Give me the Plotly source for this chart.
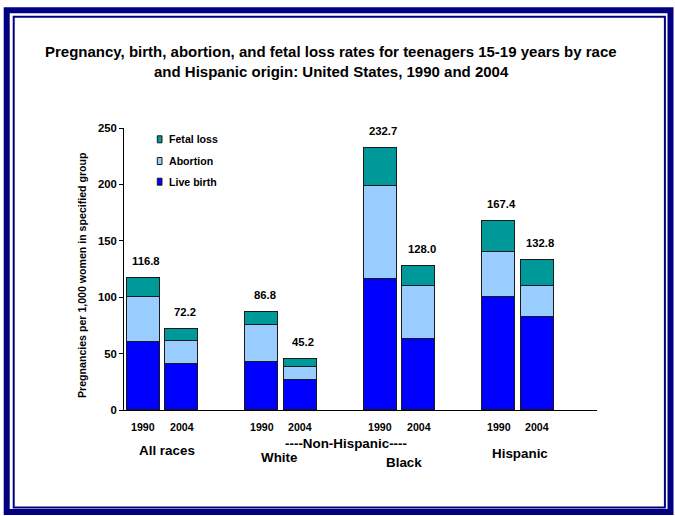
import plotly.graph_objects as go

# Teen pregnancy outcomes (per 1,000 women 15-19), two survey years per group
groups = ["All races", "White", "Black", "Hispanic"]
years = ["1990", "2004"]
live_birth = [59.9, 41.1, 42.6, 26.6, 116.2, 62.7, 100.3, 82.6]
abortion = [40.3, 20.3, 32.8, 11.8, 82.7, 46.9, 40.1, 27.0]
fetal_loss = [16.6, 10.8, 11.4, 6.8, 33.8, 18.4, 27.0, 23.2]
y_ticks = [0, 50, 100, 150, 200, 250]

series = [
    ("Live birth", live_birth, "#0000FF"),
    ("Abortion", abortion, "#99CCFF"),
    ("Fetal loss", fetal_loss, "#009999"),
]

W, H = 675, 516
L, R, T, B = 124, 78, 128, 106
PW, PH = W - L - R, H - T - B
FONT = "Liberation Sans, Arial, sans-serif"
NAVY = "#000080"

OFFSET = 0.163
BAR_W = 0.278
bar_x = [g + (-OFFSET if k == 0 else OFFSET) for g in range(len(groups)) for k in range(len(years))]
totals = [round(b + a + f, 1) for b, a, f in zip(live_birth, abortion, fetal_loss)]


def px(x):
    return (x - L) / PW


def py(y):
    return (T + PH - y) / PH


fig = go.Figure()
for name, vals, color in series:
    fig.add_trace(go.Bar(
        x=bar_x, y=vals, name=name, width=BAR_W,
        marker=dict(color=color, line=dict(color="#1a1a1a", width=1)),
        showlegend=False, hoverinfo="skip",
    ))

ann = []
# totals above each stacked bar
for x, tot in zip(bar_x, totals):
    ann.append(dict(x=x, y=tot, xref="x", yref="y", text=f"{tot:.1f}",
                    showarrow=False, yanchor="middle", yshift=17, xshift=3,
                    font=dict(size=11.3, family=FONT, color="black", weight="bold")))

# year labels under each bar
for i, x in enumerate(bar_x):
    ann.append(dict(x=x, y=py(427.3), xref="x", yref="paper", text=years[i % 2],
                    showarrow=False, yanchor="middle",
                    font=dict(size=10.6, family=FONT, color="black", weight="bold")))

# group labels (staggered like the original layout)
group_pos = [(0.04, 450), (0.98, 457.7), (2.04, 462.3), (3.02, 453.3)]
for name, (gx, gy) in zip(groups, group_pos):
    ann.append(dict(x=gx, y=py(gy), xref="x", yref="paper", text=name,
                    showarrow=False, yanchor="middle",
                    font=dict(size=13.4, family=FONT, color="black", weight="bold")))
ann.append(dict(x=1.548, y=py(443.3), xref="x", yref="paper", text="----Non-Hispanic----",
                showarrow=False, yanchor="middle",
                font=dict(size=13.4, family=FONT, color="black", weight="bold")))

# title, two centred lines
for line, ty in [("Pregnancy, birth, abortion, and fetal loss rates for teenagers 15-19 years by race", 51),
                 ("and Hispanic origin: United States, 1990 and 2004", 71.7)]:
    ann.append(dict(x=px(331), y=py(ty), xref="paper", yref="paper", text=line,
                    showarrow=False, yanchor="middle", xanchor="center",
                    font=dict(size=15, family=FONT, color="black", weight="bold")))

# y-axis title
ann.append(dict(x=px(82), y=py(275), xref="paper", yref="paper",
                text="Pregnancies per 1,000 women in specified group", textangle=-90,
                showarrow=False, xanchor="center", yanchor="middle",
                font=dict(size=10.6, family=FONT, color="black", weight="bold")))

shapes = []
# legend: swatch + label, top entry first
legend_rows = [("Fetal loss", "#009999", 139.3), ("Abortion", "#99CCFF", 161), ("Live birth", "#0000FF", 181.7)]
for name, color, ly in legend_rows:
    shapes.append(dict(type="rect", xref="paper", yref="paper",
                       x0=px(157.3), x1=px(162), y0=py(ly + 3.5), y1=py(ly - 3.5),
                       fillcolor=color, line=dict(color="#1a1a1a", width=1)))
    ann.append(dict(x=px(166.5), y=py(ly), xref="paper", yref="paper", text=name,
                    showarrow=False, xanchor="left", yanchor="middle",
                    font=dict(size=10.6, family=FONT, color="black", weight="bold")))

# double navy frame around the slide
shapes.append(dict(type="rect", xref="paper", yref="paper",
                   x0=px(6.7), x1=px(670.5), y0=py(512), y1=py(10.3),
                   line=dict(color=NAVY, width=6)))
shapes.append(dict(type="rect", xref="paper", yref="paper",
                   x0=px(13.7), x1=px(664.9), y0=py(507.5), y1=py(16.7),
                   line=dict(color=NAVY, width=2)))

fig.update_layout(
    width=W, height=H, barmode="stack", bargap=0,
    margin=dict(l=L, r=R, t=T, b=B, pad=0),
    paper_bgcolor="white", plot_bgcolor="white",
    font=dict(family=FONT, color="black"),
    annotations=ann, shapes=shapes, showlegend=False,
    xaxis=dict(range=[-0.325, 3.667], showgrid=False, zeroline=False,
               showline=True, linecolor="black", linewidth=1,
               showticklabels=False, ticks=""),
    yaxis=dict(range=[0, 250], tickvals=y_ticks, showgrid=False, zeroline=False,
               showline=True, linecolor="black", linewidth=1,
               ticks="outside", ticklen=4, tickcolor="black",
               tickfont=dict(size=11.3, family=FONT, color="black", weight="bold")),
)

fig.write_html("out.html")
